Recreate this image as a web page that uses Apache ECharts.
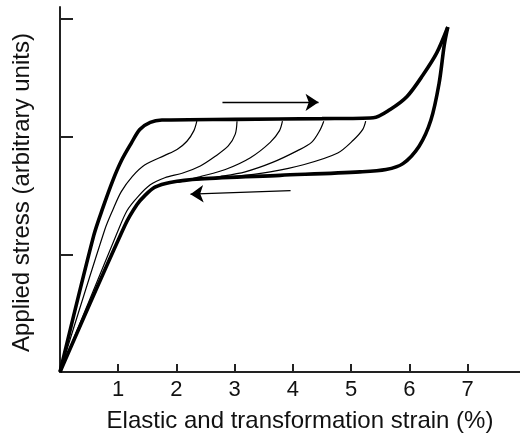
<!DOCTYPE html>
<html>
<head>
<meta charset="utf-8">
<script src="https://cdn.jsdelivr.net/npm/echarts@6/dist/echarts.min.js"></script>
<style>
  html, body { margin: 0; padding: 0; background: #fff; }
  #chart { width: 520px; height: 442px; }
</style>
</head>
<body>
<div id="chart"></div>
<script>
// Superelastic stress–strain hysteresis: strain in %, stress in arbitrary units.
const xTickLabels = [1, 2, 3, 4, 5, 6, 7];
const yTicks = [1, 2, 3];

// Full loading branch (upper plateau)
const loading = [
  [0, 0], [0.58, 1.16], [0.74, 1.4], [0.91, 1.63], [1.06, 1.8], [1.22, 1.94],
  [1.37, 2.06], [1.55, 2.12], [1.75, 2.14], [3.0, 2.146], [4.5, 2.152],
  [5.38, 2.16], [5.67, 2.23], [5.96, 2.34], [6.23, 2.52], [6.47, 2.71], [6.66, 2.93]
];

// Full unloading branch (lower plateau)
const unloading = [
  [6.66, 2.93], [6.6, 2.78], [6.51, 2.45], [6.37, 2.14], [6.17, 1.92],
  [5.89, 1.77], [5.6, 1.72], [5.15, 1.7], [3.78, 1.67], [2.41, 1.64],
  [1.89, 1.61], [1.63, 1.57], [1.46, 1.5], [1.32, 1.42], [1.12, 1.25], [0, 0]
];

// Partial unloading paths starting from the upper plateau
const partial1 = [
  [2.35, 2.13], [2.3, 2.05], [2.18, 1.96], [2.01, 1.89], [1.8, 1.84],
  [1.46, 1.76], [1.24, 1.66], [1.05, 1.53], [0.91, 1.38], [0.77, 1.21], [0, 0]
];
const partial2 = [
  [3.04, 2.13], [3.01, 2.02], [2.89, 1.92], [2.66, 1.83], [2.41, 1.75],
  [2.11, 1.69], [1.8, 1.65], [1.55, 1.59], [1.34, 1.49], [1.15, 1.37],
  [0.98, 1.18], [0, 0]
];
const partial3 = [
  [3.82, 2.13], [3.77, 2.05], [3.61, 1.95], [3.27, 1.82], [2.84, 1.72],
  [2.41, 1.66], [2.03, 1.61]
];
const partial4 = [
  [4.53, 2.13], [4.46, 2.05], [4.32, 1.95], [4.08, 1.88], [3.65, 1.78],
  [3.18, 1.7], [2.75, 1.66], [2.32, 1.63]
];
const partial5 = [
  [5.25, 2.13], [5.2, 2.06], [5.04, 1.97], [4.77, 1.86], [4.18, 1.76],
  [3.61, 1.7], [2.98, 1.66], [2.41, 1.64]
];

// Direction arrows: loading (left to right) and unloading (right to left)
const arrowLoad = [[2.79, 2.29], [4.44, 2.29]];
const arrowUnload = [[3.96, 1.54], [2.24, 1.51]];

const ink = '#000';
const font = '"Liberation Sans", Arial, sans-serif';

function curve(data, width) {
  return {
    type: 'line', data: data, showSymbol: false, smooth: 0.3,
    lineStyle: { color: ink, width: width }, z: width > 2 ? 3 : 2,
    silent: true, animation: false
  };
}

const chart = echarts.init(document.getElementById('chart'), null, { renderer: 'canvas' });
chart.setOption({
  animation: false,
  grid: { left: 60, right: 0, top: 7, bottom: 70, containLabel: false },
  xAxis: {
    type: 'value', min: 0, max: 7.9, interval: 1,
    name: 'Elastic and transformation strain (%)',
    nameLocation: 'middle', nameGap: 37,
    nameTextStyle: { color: '#111', fontSize: 24, fontFamily: font, padding: [0, 0, 0, 20] },
    axisLine: { onZero: false, lineStyle: { color: '#222', width: 2 } },
    axisTick: { inside: true, length: 8, customValues: xTickLabels, lineStyle: { color: '#222', width: 2 } },
    axisLabel: {
      color: '#111', fontSize: 22, fontFamily: font, margin: 7,
      customValues: xTickLabels
    },
    splitLine: { show: false }
  },
  yAxis: {
    type: 'value', min: 0, max: 3.1, interval: 1,
    name: 'Applied stress (arbitrary units)',
    nameLocation: 'middle', nameGap: 26, nameRotate: 90,
    nameTextStyle: { color: '#111', fontSize: 24, fontFamily: font, padding: [0, 6, 0, 0] },
    axisLine: { onZero: false, lineStyle: { color: '#222', width: 2 } },
    axisTick: { inside: true, length: 13, customValues: yTicks, lineStyle: { color: '#222', width: 2 } },
    axisLabel: { show: false },
    splitLine: { show: false }
  },
  series: [
    curve(partial1, 1.2),
    curve(partial2, 1.2),
    curve(partial3, 1.2),
    curve(partial4, 1.2),
    curve(partial5, 1.2),
    curve(loading, 3.6),
    curve(unloading, 3.6),
    {
      type: 'lines', coordinateSystem: 'cartesian2d', polyline: false,
      symbol: ['none', 'arrow'], symbolSize: 13, silent: true,
      lineStyle: { color: ink, width: 1.3, opacity: 1 },
      data: [{ coords: arrowLoad }, { coords: arrowUnload }]
    }
  ]
});
</script>
</body>
</html>
